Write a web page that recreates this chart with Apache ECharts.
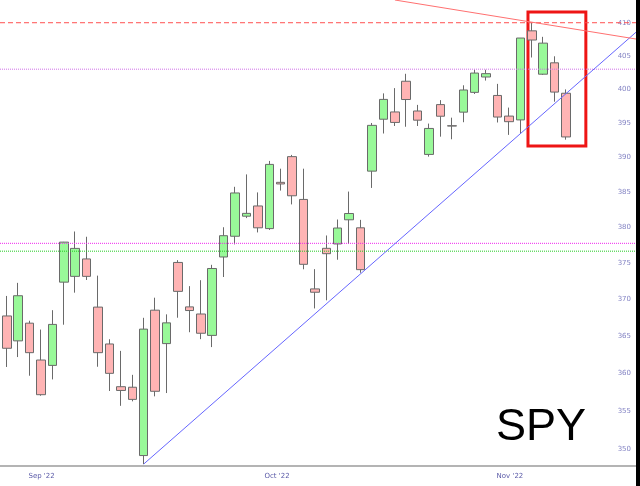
<!DOCTYPE html>
<html>
<head>
<meta charset="utf-8">
<script src="https://cdn.jsdelivr.net/npm/echarts@6/dist/echarts.min.js"></script>
<style>
  html, body { margin: 0; padding: 0; background: #000; }
  #c { width: 636px; height: 486px; background: #fff; }
</style>
</head>
<body>
<div id="c"></div>
<script>
// ---- data (SPY daily, Sep 26 2022 - Dec 6 2022) ----
const dates = ["2022-09-26","2022-09-27","2022-09-28","2022-09-29","2022-09-30",
  "2022-10-03","2022-10-04","2022-10-05","2022-10-06","2022-10-07",
  "2022-10-10","2022-10-11","2022-10-12","2022-10-13","2022-10-14",
  "2022-10-17","2022-10-18","2022-10-19","2022-10-20","2022-10-21",
  "2022-10-24","2022-10-25","2022-10-26","2022-10-27","2022-10-28",
  "2022-10-31","2022-11-01","2022-11-02","2022-11-03","2022-11-04",
  "2022-11-07","2022-11-08","2022-11-09","2022-11-10","2022-11-11",
  "2022-11-14","2022-11-15","2022-11-16","2022-11-17","2022-11-18",
  "2022-11-21","2022-11-22","2022-11-23","2022-11-25","2022-11-28",
  "2022-11-29","2022-11-30","2022-12-01","2022-12-02","2022-12-05","2022-12-06"];
const openP  = [366.41,367.76,364.38,366.78,361.80, 361.08,372.40,373.20,375.62,368.97,
  363.96,358.24,358.17,349.21,368.55, 364.01,375.13,369.00,368.03,365.12,
  375.89,378.79,381.62,383.07,379.87, 386.44,390.14,384.00,371.47,377.10,
  377.71,381.11,379.98,388.05,395.59, 396.66,401.20,396.80,390.46,397.74,
  394.64,396.63,399.55,401.83,399.09, 396.05,395.49,408.77,402.25,403.95,399.42];
const highP  = [370.21,370.50,372.30,367.11,365.91, 368.55,378.00,379.46,378.72,373.30,
  364.60,363.03,359.82,367.51,370.26, 367.98,375.45,371.85,372.67,374.80,
  380.06,385.80,387.58,385.00,389.52, 388.40,390.39,388.40,374.20,378.90,
  381.15,385.12,381.10,395.04,399.40, 400.18,402.31,397.70,394.95,398.40,
  395.82,400.60,402.93,402.91,400.81, 397.30,407.68,410.00,407.86,404.93,399.99];
const lowP   = [363.03,360.87,362.20,359.70,357.04, 359.21,366.57,370.95,372.70,360.90,
  357.67,355.71,356.30,348.11,356.96, 357.40,367.52,365.55,364.61,363.54,
  373.11,377.65,381.35,379.33,379.68, 385.26,383.29,374.18,368.79,369.90,
  375.51,377.72,373.70,385.64,393.50, 394.60,394.49,394.60,390.14,393.04,
  392.66,395.15,399.31,401.30,395.11, 393.30,393.48,404.75,402.14,398.17,392.60];
const closeP = [364.31,363.38,370.53,362.79,357.18, 366.61,377.97,377.09,373.20,362.79,
  360.02,357.74,356.56,365.97,357.63, 366.82,371.13,368.50,365.41,374.29,
  378.87,384.92,382.02,379.98,389.02, 386.21,384.52,374.87,371.01,376.35,
  379.95,382.00,374.13,394.69,398.51, 395.12,398.49,395.45,394.24,396.03,
  394.59,399.90,402.42,402.33,395.91, 395.23,407.68,407.38,406.91,399.59,393.00];

// tick labels
const yTicks = [350,355,360,365,370,375,380,385,390,395,400,405,410];
const xLabels = ["Sep '22","Oct '22","Nov '22"];
const xLabelPos = [4.05, 24.68, 45.09];   // positions in trading-day index

// annotation levels / lines
const hLevels = [410, 403, 377.8, 376.7];
const hColors = ['#ff5050', '#d070e8', '#ee22ee', '#22cc22'];
const blueTrend = [[13, 348.11], [56.134, 408.56]];
const redTrend  = [[35.01, 413.47], [56.134, 407.53]];
const box = [[46.67, 411.63], [51.74, 391.68]];

// axis ranges
const xMin = 0.408, xMax = 56.134;
const pMin = 347.86, pMax = 413.47;

const L = Math.log;
const candles = dates.map((d, i) => [i, L(openP[i]), L(closeP[i]), L(lowP[i]), L(highP[i])]);

const chart = echarts.init(document.getElementById('c'), null, {renderer: 'canvas'});

// horizontal reference lines as separate line series (drawn over the candles)
const hSeries = hLevels.map((p, k) => ({
  type: 'line',
  data: [[xMin, L(p)], [xMax, L(p)]],
  symbol: 'none', silent: true, z: 3,
  lineStyle: {color: hColors[k], width: 1, type: k === 0 ? [5, 3] : [1, 1]},
  itemStyle: {color: hColors[k]}
}));

chart.setOption({
  animation: false,
  backgroundColor: '#fff',
  grid: {left: 0, right: 0, top: 0, bottom: 20},
  xAxis: {
    type: 'value', min: xMin, max: xMax,
    axisLine: {show: true, onZero: false, lineStyle: {color: '#b4b4b4', width: 2}},
    axisTick: {show: false},
    splitLine: {show: false},
    axisLabel: {
      customValues: xLabelPos,
      formatter: function (v) {
        let best = 0;
        for (let k = 1; k < xLabelPos.length; k++) if (Math.abs(xLabelPos[k]-v) < Math.abs(xLabelPos[best]-v)) best = k;
        return xLabels[best];
      },
      fontSize: 7, fontFamily: 'DejaVu Sans', color: '#5a5aa8', margin: 7
    }
  },
  yAxis: {
    type: 'value', position: 'right', min: L(pMin), max: L(pMax),
    axisLine: {show: false}, axisTick: {show: false}, splitLine: {show: false},
    axisLabel: {
      inside: true,
      customValues: yTicks.map(L),
      formatter: v => String(Math.round(Math.exp(v))),
      fontSize: 7, fontFamily: 'DejaVu Sans', color: '#8484c4', margin: 5
    }
  },
  graphic: [{
    type: 'text', left: 496, top: 405,
    style: {text: 'SPY', fontSize: 45, fontFamily: 'Liberation Sans', fill: '#000'}
  }],
  series: hSeries.concat([{
    type: 'candlestick',
    data: candles,
    encode: {x: 0, y: [1, 2, 3, 4]},
    barWidth: 9,
    clip: true,
    z: 2,
    itemStyle: {
      color: '#99f999', color0: '#ffb4b4',
      borderColor: '#6a6a6a', borderColor0: '#6a6a6a', borderWidth: 1
    },
    markLine: {
      silent: true, precision: 10, symbol: ['none', 'none'], label: {show: false},
      data: [
        [{coord: [blueTrend[0][0], L(blueTrend[0][1])], lineStyle: {color: '#6666ff', type: 'solid', width: 1}},
         {coord: [blueTrend[1][0], L(blueTrend[1][1])]}],
        [{coord: [redTrend[0][0], L(redTrend[0][1])], lineStyle: {color: '#ff7070', type: 'solid', width: 1}},
         {coord: [redTrend[1][0], L(redTrend[1][1])]}]
      ]
    },
    markArea: {
      silent: true,
      itemStyle: {color: 'rgba(0,0,0,0)', borderColor: '#ee1515', borderWidth: 3},
      data: [[{coord: [box[0][0], L(box[0][1])]}, {coord: [box[1][0], L(box[1][1])]}]]
    }
  }])
});
</script>
</body>
</html>
